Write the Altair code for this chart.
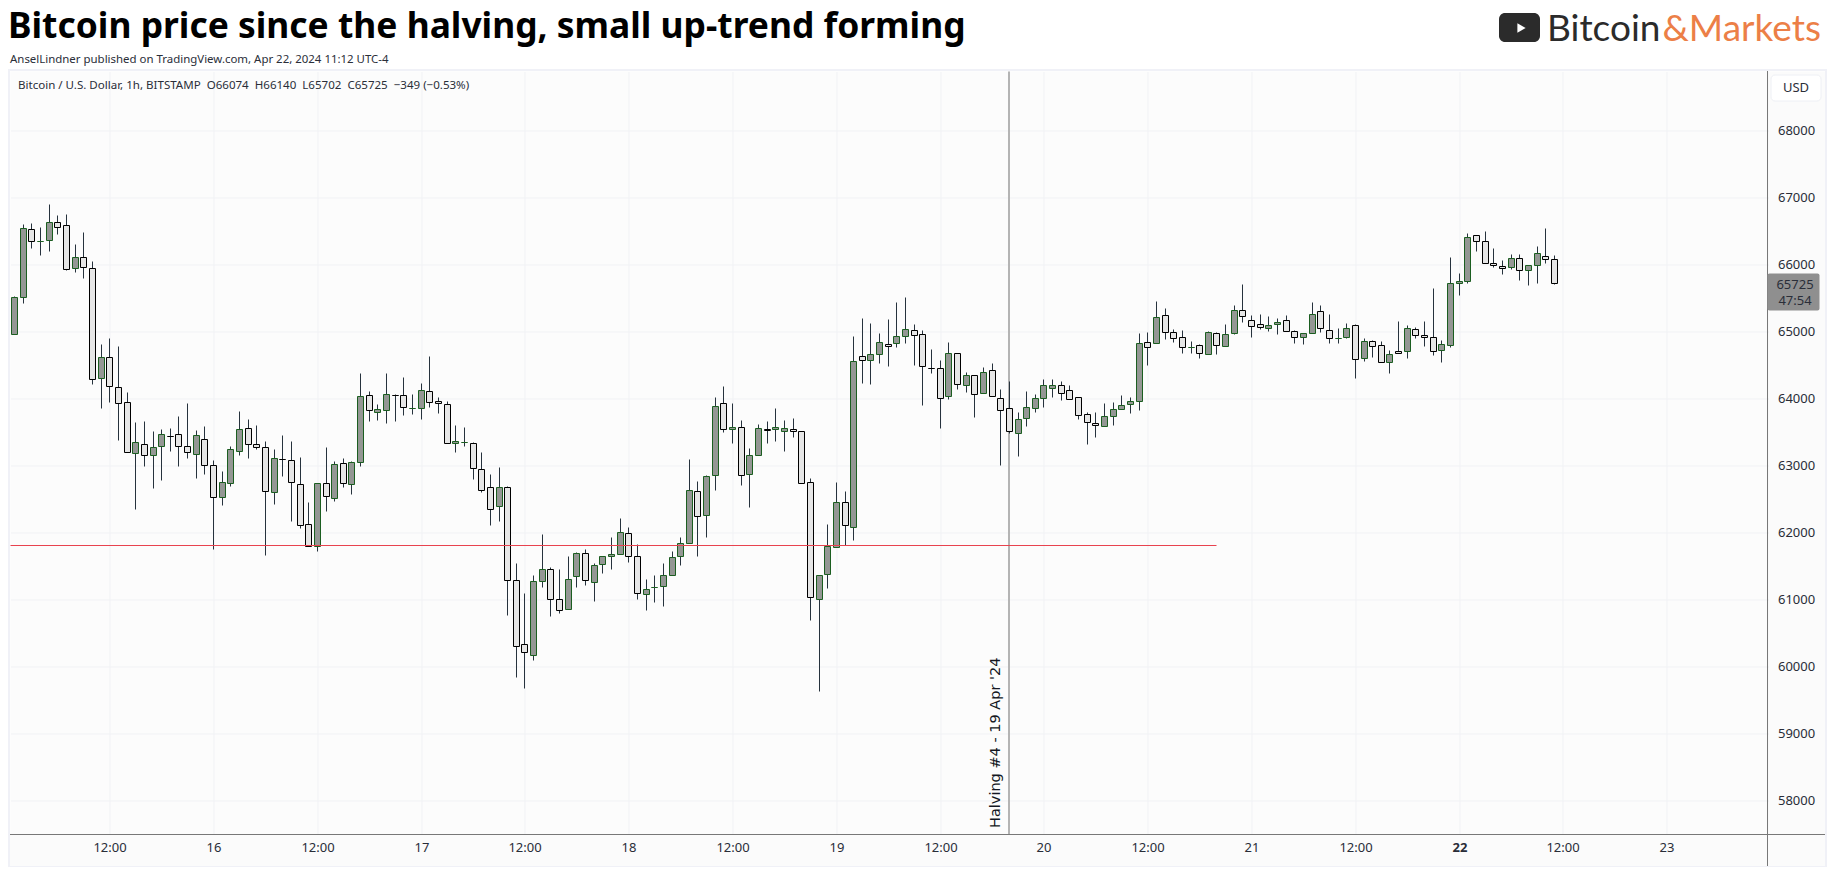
import altair as alt
import pandas as pd

opens = [
64955,65507,66522,66343,66358,66641,66582,65940,66104,65940,
64298,64612,64164,63940,63179,63313,63149,63283,63442,63462,
63283,63164,63388,63000,62522,62731,63209,63552,63313,63268,
62597,63089,63074,62716,62119,61791,62731,62507,63030,62716,
63045,64044,63791,63820,64045,64044,63850,63850,64104,63955,
63910,63328,63343,63328,62940,62671,62388,62671,61283,60328,
60164,61268,61447,60999,60850,61343,61686,61253,61522,61641,
61671,61985,61641,61074,61184,61193,61358,61641,61835,62611,
62253,62850,63925,63537,63567,62865,63149,63537,63537,63507,
63537,63507,62746,60999,61373,61776,62447,62074,64627,64567,
64657,64806,64821,64925,65015,64955,64458,64448,64030,64671,
64194,64343,64074,64418,64000,63851,63478,63701,63851,64000,
64149,64194,64119,64015,63761,63627,63582,63731,63836,63910,
63955,64836,64821,65239,64985,64910,64761,64791,64657,64970,
64775,64984,65313,65178,65118,65044,65104,65178,64999,64910,
64984,65298,65014,64895,64924,65089,64596,64850,64790,64551,
64701,64701,65029,64954,64924,64716,64790,65730,65760,66447,
66357,66029,65984,65969,66089,65910,65999,66133,66074]
closes = [
65507,66537,66343,66343,66641,66552,65925,66104,65955,64283,
64612,64179,63925,63194,63343,63149,63268,63462,63432,63283,
63194,63447,63000,62522,62746,63238,63537,63313,63268,62612,
63104,63088,62746,62104,61791,62731,62537,63015,62731,63045,
64029,63820,63835,64059,64044,63865,63850,64119,63940,63925,
63328,63358,63343,62955,62626,62343,62671,61283,60298,60208,
61268,61447,60999,60835,61298,61686,61283,61507,61641,61671,
62000,61641,61089,61149,61184,61358,61626,61835,62626,62238,
62835,63880,63537,63567,62850,63149,63552,63527,63567,63552,
63507,62731,61029,61358,61790,62447,62104,64552,64567,64657,
64836,64776,64925,65030,64940,64477,64448,64000,64671,64209,
64343,64060,64388,64030,63821,63507,63686,63866,64000,64194,
64194,64074,63985,63746,63642,63597,63731,63836,63895,63955,
64821,64761,65209,64985,64895,64761,64761,64671,64985,64791,
64969,65327,65223,65074,65059,65089,65148,64999,64924,64984,
65253,65044,64895,64895,65044,64581,64850,64775,64551,64656,
64671,65044,64954,64910,64701,64805,65716,65760,66417,66357,
66029,65999,65954,66089,65910,65999,66178,66074,65725]
highs = [
65527,66602,66616,66557,66900,66736,66751,66303,66482,66049,
64811,64900,64781,64094,63646,63661,63512,63542,63557,63736,
63930,63527,63587,63074,62915,63283,63811,63691,63602,63363,
63243,63452,63363,63124,62452,62731,63273,63065,63109,63065,
64378,64109,63915,64378,64064,64318,64064,64228,64631,64019,
63960,63601,63572,63343,63198,62870,62975,62686,61542,61094,
61363,61975,61477,61452,61646,61701,61751,61542,61641,61930,
62213,62079,61825,61303,61363,61542,61721,61930,63094,62766,
62855,64019,64183,63930,63676,63258,63616,63661,63855,63676,
63706,63507,62810,61358,62124,62751,62616,64930,65199,65124,
64975,65184,65438,65512,65109,65020,64736,64572,64841,64671,
64388,64343,64463,64527,64139,64259,63796,64109,64065,64288,
64288,64259,64194,64015,63796,63796,63930,63945,64050,64020,
64975,64990,65453,65348,65030,65020,64856,64811,65005,64985,
65109,65392,65706,65243,65258,65228,65198,65243,65014,64984,
65437,65392,65258,65049,65123,65104,64895,64865,64855,64721,
65153,65089,65064,65153,65646,64870,66109,65870,66467,66447,
66497,66243,66064,66153,66153,65999,66273,66541,66140]
lows = [
64955,65427,66248,66144,66204,66457,65910,65890,65791,64218,
63860,63950,63383,63194,62353,62995,62666,62786,63219,62995,
63114,62816,62875,61756,62413,62696,63159,63114,63238,61666,
62427,62845,62174,62069,61791,61726,62323,62472,62681,62577,
62995,63666,63681,63636,63666,63756,63771,63696,63875,63785,
63328,63203,63293,62800,62596,62114,62174,60771,59845,59681,
60099,61188,60756,60800,60850,61188,61218,60980,61397,61457,
61671,61562,61009,60845,60965,60905,61358,61517,61835,61651,
61935,62636,63502,63338,62711,62383,63149,63338,63363,63218,
63422,62731,60696,59636,61174,61776,61815,61890,64234,64219,
64532,64487,64771,64831,64502,63905,64383,63562,63995,64144,
64099,63726,64074,64030,63010,63478,63144,63592,63801,63875,
64025,63980,63985,63696,63323,63428,63582,63607,63836,63786,
63831,64502,64821,64890,64846,64676,64671,64607,64657,64657,
64775,64959,65143,64920,65029,65009,64959,64999,64830,64810,
64984,64994,64830,64830,64900,64308,64561,64621,64551,64382,
64671,64606,64895,64780,64651,64546,64770,65546,65725,66203,
66029,65964,65855,65934,65765,65691,65725,66019,65702]
hours = list(range(1, 180))   # hours since 15 Apr 00:00

price_ticks = [58000, 59000, 60000, 61000, 62000, 63000, 64000, 65000, 66000, 67000, 68000]
time_ticks = [12, 24, 36, 48, 60, 72, 84, 96, 108, 120, 132, 144, 156, 168, 180, 192]
time_labels = ["12:00", "16", "12:00", "17", "12:00", "18", "12:00", "19", "12:00",
               "20", "12:00", "21", "12:00", "22", "12:00", "23"]
bold_tick = 168
halving_hour = 116
support_price = 61806
support_hours = [0.52, 140]

UI_FONT = "Noto Sans"
INK = "#2a2e39"
W, H = 1758, 763

df = pd.DataFrame({"hour": hours, "open": opens, "high": highs, "low": lows, "close": closes})
df["dir"] = ["up" if c >= o else "down" for o, c in zip(opens, closes)]

x_axis = alt.Axis(
    values=time_ticks,
    labelExpr=f"{time_labels}[indexof({time_ticks}, datum.value)]",
    labelFontWeight={"condition": {"test": f"datum.value === {bold_tick}", "value": "bold"}, "value": "normal"},
    grid=True, gridColor="#f1f2f5", gridWidth=1, domain=False, ticks=False, title=None,
    labelFont=UI_FONT, labelFontSize=13, labelColor=INK, labelPadding=7, labelOverlap=False,
)
y_axis = alt.Axis(
    values=price_ticks, orient="right", format="d",
    grid=True, gridColor="#f1f2f5", gridWidth=1, domain=False, ticks=False, title=None,
    labelFont=UI_FONT, labelFontSize=13, labelColor=INK, labelPadding=9, labelOverlap=False,
)
x_scale = alt.Scale(domain=[0.52, 203.76], nice=False, zero=False, padding=0, round=True)
y_scale = alt.Scale(domain=[57497, 68888], nice=False, zero=False, padding=0, round=True)
X = alt.X("hour:Q", scale=x_scale, axis=x_axis)
Y = alt.Y("high:Q", scale=y_scale, axis=y_axis)


def note(s, x, y, size=12, color=INK, weight="normal", align="left", angle=0, font=UI_FONT):
    return alt.Chart(pd.DataFrame({"t": [s]})).mark_text(
        font=font, fontSize=size, fontWeight=weight, align=align, baseline="alphabetic",
        angle=angle, color=color, clip=False,
    ).encode(x=alt.value(x), y=alt.value(y), text="t:N")


def box(x, x2, y, y2, **kw):
    return alt.Chart(pd.DataFrame({"k": [0]})).mark_rect(clip=False, **kw).encode(
        x=alt.value(x), x2=alt.value(x2), y=alt.value(y), y2=alt.value(y2))


def line(x, x2, y, y2, color, width=1):
    return alt.Chart(pd.DataFrame({"k": [0]})).mark_rule(color=color, strokeWidth=width, clip=False).encode(
        x=alt.value(x), x2=alt.value(x2), y=alt.value(y), y2=alt.value(y2))


base = alt.Chart(df)
wicks = base.mark_rule(color="#26323d", strokeWidth=1).encode(x=X, y=Y, y2="low:Q")
bodies = base.mark_bar(size=6, strokeWidth=1).encode(
    x=X,
    y=alt.Y("open:Q", scale=y_scale, axis=y_axis),
    y2="close:Q",
    fill=alt.Fill("dir:N", scale=alt.Scale(domain=["up", "down"], range=["#949794", "#e6e6e6"]), legend=None),
    stroke=alt.Stroke("dir:N", scale=alt.Scale(domain=["up", "down"], range=["#1b5e20", "#000000"]), legend=None),
)
halving = alt.Chart(pd.DataFrame({"hour": [halving_hour]})).mark_rule(color="#b4b4b4", strokeWidth=2, xOffset=-0.5).encode(x=X)
support = alt.Chart(pd.DataFrame({"hour": [support_hours[0]], "hour2": [support_hours[1]], "high": [support_price]})).mark_rule(
    color="#e8434f", strokeWidth=1).encode(x=X, x2="hour2:Q", y=Y)

NB = "\u00a0\u00a0"
layers = [
    box(W - 1, 1815, 0, 795, fill="#000000", opacity=0.016),
    box(-1, W - 1, H, 795, fill="#000000", opacity=0.016),
    halving, wicks, bodies, support,
    line(-1, 1815, H, H, "#787878"),
    line(W - 1, W - 1, -1, 795, "#787878"),
    box(-1.5, 1815.5, -1.5, 795.5, fill="transparent", stroke="#f0f1f7", strokeWidth=2),
    note("Bitcoin price since the halving, small up-trend forming", -2.5, -34, size=35.4, color="#000000", weight="bold"),
    note("AnselLindner published on TradingView.com, Apr 22, 2024 11:12 UTC-4", -0.5, -8.5, size=11.45),
    note(f"Bitcoin / U.S. Dollar, 1h, BITSTAMP{NB}O66074{NB}H66140{NB}L65702{NB}C65725{NB}\u2212349 (\u22120.53%)", 7.5, 17.5, size=11.55),
    note("Halving #4 - 19 Apr '24", 989.5, 756.5, size=14.5, angle=270, color="#131722", font="DejaVu Sans"),
    box(1760.5, 1810.5, 3.5, 29.5, fill="#ffffff", stroke="#eef0f5", cornerRadius=4),
    note("USD", 1785.5, 20.5, size=13, align="center"),
    box(1757, 1809, 202, 239, fill="#8f8f8f", cornerRadius=2),
    note("65725", 1784.5, 217.5, size=13, align="center"),
    note("47:54", 1784.5, 233.5, size=13, align="center"),
    box(1488.5, 1529.5, -58.5, -29.5, fill="#2b2b2b", cornerRadius=6),
    alt.Chart(pd.DataFrame({"k": [0]})).mark_point(shape="triangle-right", filled=True, color="#ffffff", size=90, opacity=1, clip=False)
        .encode(x=alt.value(1511), y=alt.value(-43.5)),
    note("Bitcoin", 1536.5, -31, size=37, color="#2b2b2b", font="Lato"),
    note("&Markets", 1652, -31, size=37, color="#ec7f47", font="Lato"),
]

chart = alt.layer(*layers).properties(
    width=W, height=H,
    padding={"left": 2.5, "top": 63.5, "right": 58.5, "bottom": 32.5},
    autosize=alt.AutoSizeParams(type="none"),
    background="#ffffff",
).configure_view(fill="#fcfcfc", stroke=None)

chart.save("out.html", embed_options={"renderer": "svg", "actions": False})
